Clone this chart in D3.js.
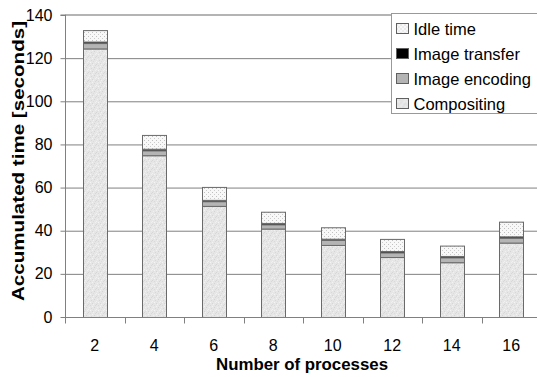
<!DOCTYPE html>
<html>
<head>
<meta charset="utf-8">
<script src="https://cdn.jsdelivr.net/npm/d3@7"></script>
<style>
  html, body { margin: 0; padding: 0; background: #fff; }
  svg { display: block; font-family: "Liberation Sans", Arial, sans-serif; }
</style>
</head>
<body>
<svg id="chart" width="537" height="377"></svg>
<script>
// Accumulated time per phase, by number of processes
const processes   = ["2", "4", "6", "8", "10", "12", "14", "16"];
const compositing = [124.5, 75.0, 51.5, 41.0, 33.4, 27.8, 25.4, 34.5];
const encoding    = [2.5, 2.3, 2.2, 2.0, 2.3, 2.2, 2.3, 2.3];
const transfer    = [0.7, 0.7, 0.6, 0.6, 0.6, 0.6, 0.6, 0.6];
const idle        = [5.3, 6.4, 6.0, 5.2, 5.3, 5.6, 4.8, 6.8];
const yTicks      = [0, 20, 40, 60, 80, 100, 120, 140];

const seriesKeys  = ["Compositing", "Image encoding", "Image transfer", "Idle time"];
const legendOrder = ["Idle time", "Image transfer", "Image encoding", "Compositing"];

const rows = processes.map((p, i) => ({
  p,
  "Compositing": compositing[i],
  "Image encoding": encoding[i],
  "Image transfer": transfer[i],
  "Idle time": idle[i]
}));

const svg = d3.select("#chart");
const plotL = 65, plotR = 541, plotT = 15, plotB = 317;

const x = d3.scaleBand().domain(processes).range([plotL, plotR])
  .paddingInner(0.6).paddingOuter(0.3);
const y = d3.scaleLinear().domain([0, 140]).range([plotB, plotT]);

// Fill patterns: fine grain for compositing, dots for idle time
const defs = svg.append("defs");
const speck = defs.append("pattern").attr("id", "speck")
  .attr("patternUnits", "userSpaceOnUse").attr("width", 8).attr("height", 8);
speck.append("rect").attr("width", 8).attr("height", 8).attr("fill", "#e6e6e6");
const grain = [
  [0,0,"#d6d6d6"],[5,0,"#f2f2f2"],[2,1,"#dadada"],[7,1,"#d8d8d8"],[4,2,"#f4f4f4"],
  [1,3,"#f0f0f0"],[6,3,"#d4d4d4"],[3,4,"#d8d8d8"],[0,5,"#f2f2f2"],[5,5,"#dcdcdc"],
  [2,6,"#f4f4f4"],[7,6,"#f0f0f0"],[4,7,"#d6d6d6"],[1,7,"#dedede"]
];
grain.forEach(([px, py, c]) => speck.append("rect").attr("x", px).attr("y", py)
  .attr("width", 1).attr("height", 1).attr("fill", c));

const dots = defs.append("pattern").attr("id", "dots")
  .attr("patternUnits", "userSpaceOnUse").attr("width", 4).attr("height", 4);
dots.append("rect").attr("width", 4).attr("height", 4).attr("fill", "#f8f8f8");
dots.append("rect").attr("x", 0).attr("y", 0).attr("width", 1).attr("height", 1).attr("fill", "#c0c0c0");
dots.append("rect").attr("x", 2).attr("y", 2).attr("width", 1).attr("height", 1).attr("fill", "#cccccc");

const fills = {
  "Compositing": "url(#speck)",
  "Image encoding": "#b4b4b4",
  "Image transfer": "#000000",
  "Idle time": "url(#dots)"
};

// Horizontal gridlines
svg.append("g").selectAll("line").data(yTicks.filter(t => t > 0 && t < 140)).join("line")
  .attr("x1", plotL).attr("x2", plotR)
  .attr("y1", d => y(d) + 0.5).attr("y2", d => y(d) + 0.5)
  .attr("stroke", "#808080").attr("stroke-width", 1);
svg.append("line").attr("x1", plotL).attr("x2", plotR)
  .attr("y1", y(140)).attr("y2", y(140))
  .attr("stroke", "#b4b4b4").attr("stroke-width", 2);

// Stacked bars
const stacked = d3.stack().keys(seriesKeys)(rows);
svg.append("g").selectAll("g").data(stacked).join("g")
  .attr("fill", d => fills[d.key])
  .selectAll("rect").data(d => d).join("rect")
  .attr("x", d => Math.round(x(d.data.p)) + 0.5)
  .attr("width", Math.round(x.bandwidth()))
  .attr("y", d => y(d[1]) + 0.5)
  .attr("height", d => y(d[0]) - y(d[1]))
  .attr("stroke", "#6a6a6a").attr("stroke-width", 1);

// Y axis
const yAxis = svg.append("g").attr("transform", `translate(${plotL + 0.5},0)`)
  .call(d3.axisLeft(y).tickValues(yTicks).tickSize(5).tickPadding(8));
yAxis.select(".domain").attr("stroke", "#808080").attr("d", `M-5,${y(140)}H0V${y(0)}`);
yAxis.selectAll(".tick line").attr("stroke", "#808080");
yAxis.selectAll(".tick text").attr("font-size", 16).attr("fill", "#000")
  .attr("font-family", "Liberation Sans, Arial, sans-serif");

// X axis with ticks between categories
const xAxisG = svg.append("g").attr("transform", `translate(0,${plotB + 0.5})`);
xAxisG.append("line").attr("x1", plotL).attr("x2", plotR).attr("stroke", "#808080");
const bounds = processes.map((p, i) => plotL + i * x.step());
xAxisG.selectAll(".tk").data(bounds).join("line").attr("class", "tk")
  .attr("x1", d => Math.round(d) + 0.5).attr("x2", d => Math.round(d) + 0.5)
  .attr("y1", 0).attr("y2", 6).attr("stroke", "#808080");
xAxisG.selectAll("text").data(processes).join("text")
  .attr("x", d => x(d) + x.bandwidth() / 2).attr("y", 33)
  .attr("text-anchor", "middle").attr("font-size", 16).attr("fill", "#000")
  .text(d => d);

// Axis titles
svg.append("text").attr("x", 302).attr("y", 370)
  .attr("text-anchor", "middle").attr("font-size", 16).attr("font-weight", "bold")
  .attr("textLength", 172).attr("lengthAdjust", "spacingAndGlyphs")
  .text("Number of processes");
svg.append("text").attr("transform", "translate(24,161) rotate(-90)")
  .attr("text-anchor", "middle").attr("font-size", 17).attr("font-weight", "bold")
  .attr("textLength", 280).attr("lengthAdjust", "spacingAndGlyphs")
  .text("Accumulated time [seconds]");

// Legend
const lg = svg.append("g").attr("transform", "translate(391.5,13.5)");
lg.append("rect").attr("width", 160).attr("height", 100)
  .attr("fill", "#fff").attr("stroke", "#999").attr("stroke-width", 1);
legendOrder.forEach((k, i) => {
  const row = lg.append("g").attr("transform", `translate(5,${15 + i * 25})`);
  row.append("rect").attr("x", 0).attr("y", -5).attr("width", 12).attr("height", 10)
    .attr("fill", fills[k]).attr("stroke", "#606060");
  row.append("text").attr("x", 17).attr("y", 6).attr("font-size", 16.5).attr("fill", "#000").text(k);
});
</script>
</body>
</html>
